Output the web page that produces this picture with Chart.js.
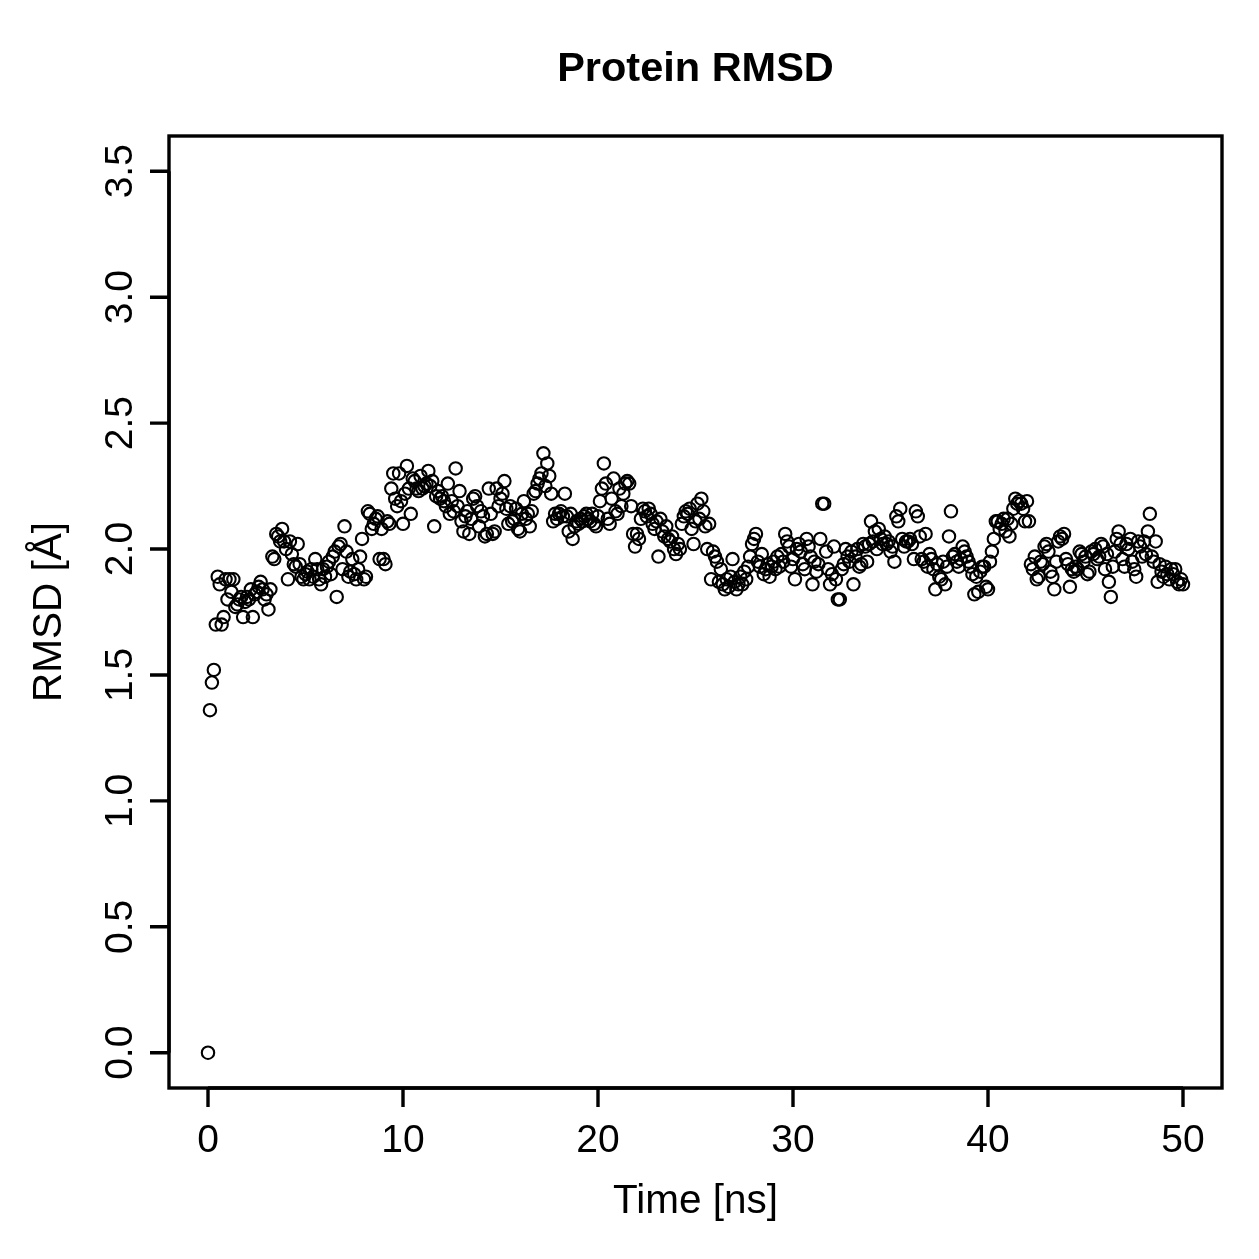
<!DOCTYPE html>
<html>
<head>
<meta charset="utf-8">
<script src="https://cdn.jsdelivr.net/npm/chart.js@4.4.1/dist/chart.umd.min.js"></script>
<style>
html,body{margin:0;padding:0;background:#fff;}
#wrap{width:1259px;height:1259px;position:relative;}
</style>
</head>
<body>
<div id="wrap"><canvas id="c"></canvas></div>
<script>
const chartTitle = "Protein RMSD";
const xTitle = "Time [ns]";
const yTitle = "RMSD [Å]";
const xTicks = [0, 10, 20, 30, 40, 50];
const yTicks = [0.0, 0.5, 1.0, 1.5, 2.0, 2.5, 3.0, 3.5];
const yTickLabels = ["0.0","0.5","1.0","1.5","2.0","2.5","3.0","3.5"];

const timeNs = [
0.0,0.1,0.2,0.3,0.4,0.5,0.6,0.7,0.8,0.9,
1.0,1.1,1.2,1.3,1.4,1.5,1.6,1.7,1.8,1.9,
2.0,2.1,2.2,2.3,2.4,2.5,2.6,2.7,2.8,2.9,
3.0,3.1,3.2,3.3,3.4,3.5,3.6,3.7,3.8,3.9,
4.0,4.1,4.2,4.3,4.4,4.5,4.6,4.7,4.8,4.9,
5.0,5.1,5.2,5.3,5.4,5.5,5.6,5.7,5.8,5.9,
6.0,6.1,6.2,6.3,6.4,6.5,6.6,6.7,6.8,6.9,
7.0,7.1,7.2,7.3,7.4,7.5,7.6,7.7,7.8,7.9,
8.0,8.1,8.2,8.3,8.4,8.5,8.6,8.7,8.8,8.9,
9.0,9.1,9.2,9.3,9.4,9.5,9.6,9.7,9.8,9.9,
10.0,10.1,10.2,10.3,10.4,10.5,10.6,10.7,10.8,10.9,
11.0,11.1,11.2,11.3,11.4,11.5,11.6,11.7,11.8,11.9,
12.0,12.1,12.2,12.3,12.4,12.5,12.6,12.7,12.8,12.9,
13.0,13.1,13.2,13.3,13.4,13.5,13.6,13.7,13.8,13.9,
14.0,14.1,14.2,14.3,14.4,14.5,14.6,14.7,14.8,14.9,
15.0,15.1,15.2,15.3,15.4,15.5,15.6,15.7,15.8,15.9,
16.0,16.1,16.2,16.3,16.4,16.5,16.6,16.7,16.8,16.9,
17.0,17.1,17.2,17.3,17.4,17.5,17.6,17.7,17.8,17.9,
18.0,18.1,18.2,18.3,18.4,18.5,18.6,18.7,18.8,18.9,
19.0,19.1,19.2,19.3,19.4,19.5,19.6,19.7,19.8,19.9,
20.0,20.1,20.2,20.3,20.4,20.5,20.6,20.7,20.8,20.9,
21.0,21.1,21.2,21.3,21.4,21.5,21.6,21.7,21.8,21.9,
22.0,22.1,22.2,22.3,22.4,22.5,22.6,22.7,22.8,22.9,
23.0,23.1,23.2,23.3,23.4,23.5,23.6,23.7,23.8,23.9,
24.0,24.1,24.2,24.3,24.4,24.5,24.6,24.7,24.8,24.9,
25.0,25.1,25.2,25.3,25.4,25.5,25.6,25.7,25.8,25.9,
26.0,26.1,26.2,26.3,26.4,26.5,26.6,26.7,26.8,26.9,
27.0,27.1,27.2,27.3,27.4,27.5,27.6,27.7,27.8,27.9,
28.0,28.1,28.2,28.3,28.4,28.5,28.6,28.7,28.8,28.9,
29.0,29.1,29.2,29.3,29.4,29.5,29.6,29.7,29.8,29.9,
30.0,30.1,30.2,30.3,30.4,30.5,30.6,30.7,30.8,30.9,
31.0,31.1,31.2,31.3,31.4,31.5,31.6,31.7,31.8,31.9,
32.0,32.1,32.2,32.3,32.4,32.5,32.6,32.7,32.8,32.9,
33.0,33.1,33.2,33.3,33.4,33.5,33.6,33.7,33.8,33.9,
34.0,34.1,34.2,34.3,34.4,34.5,34.6,34.7,34.8,34.9,
35.0,35.1,35.2,35.3,35.4,35.5,35.6,35.7,35.8,35.9,
36.0,36.1,36.2,36.3,36.4,36.5,36.6,36.7,36.8,36.9,
37.0,37.1,37.2,37.3,37.4,37.5,37.6,37.7,37.8,37.9,
38.0,38.1,38.2,38.3,38.4,38.5,38.6,38.7,38.8,38.9,
39.0,39.1,39.2,39.3,39.4,39.5,39.6,39.7,39.8,39.9,
40.0,40.1,40.2,40.3,40.4,40.5,40.6,40.7,40.8,40.9,
41.0,41.1,41.2,41.3,41.4,41.5,41.6,41.7,41.8,41.9,
42.0,42.1,42.2,42.3,42.4,42.5,42.6,42.7,42.8,42.9,
43.0,43.1,43.2,43.3,43.4,43.5,43.6,43.7,43.8,43.9,
44.0,44.1,44.2,44.3,44.4,44.5,44.6,44.7,44.8,44.9,
45.0,45.1,45.2,45.3,45.4,45.5,45.6,45.7,45.8,45.9,
46.0,46.1,46.2,46.3,46.4,46.5,46.6,46.7,46.8,46.9,
47.0,47.1,47.2,47.3,47.4,47.5,47.6,47.7,47.8,47.9,
48.0,48.1,48.2,48.3,48.4,48.5,48.6,48.7,48.8,48.9,
49.0,49.1,49.2,49.3,49.4,49.5,49.6,49.7,49.8,49.9,
50.0
];

const rmsdA = [
0.00,1.36,1.47,1.52,1.70,1.89,1.86,1.70,1.73,1.88,
1.80,1.88,1.83,1.88,1.77,1.78,1.80,1.81,1.73,1.79,
1.81,1.80,1.84,1.73,1.82,1.83,1.85,1.87,1.84,1.80,
1.82,1.76,1.84,1.97,1.96,2.06,2.05,2.03,2.08,2.03,
2.00,1.88,2.03,1.98,1.94,1.93,2.02,1.94,1.89,1.88,
1.90,1.91,1.88,1.92,1.89,1.96,1.92,1.88,1.86,1.92,
1.89,1.93,1.95,1.90,1.97,1.99,1.81,2.01,2.02,1.92,
2.09,1.99,1.89,1.91,1.96,1.90,1.88,1.92,1.97,2.04,
1.88,1.89,2.15,2.14,2.08,2.10,2.12,2.13,1.96,2.08,
1.96,1.94,2.11,2.10,2.24,2.30,2.20,2.17,2.30,2.19,
2.10,2.22,2.33,2.24,2.14,2.28,2.27,2.24,2.23,2.29,
2.24,2.25,2.26,2.31,2.25,2.27,2.09,2.21,2.23,2.20,
2.21,2.19,2.17,2.26,2.14,2.19,2.15,2.32,2.17,2.23,
2.11,2.07,2.13,2.15,2.06,2.12,2.20,2.21,2.17,2.09,
2.15,2.13,2.05,2.06,2.24,2.14,2.06,2.07,2.24,2.17,
2.20,2.22,2.27,2.16,2.10,2.17,2.11,2.12,2.16,2.08,
2.07,2.14,2.19,2.12,2.14,2.09,2.15,2.22,2.23,2.26,
2.28,2.30,2.38,2.25,2.34,2.29,2.22,2.11,2.14,2.12,
2.14,2.15,2.13,2.22,2.13,2.07,2.14,2.04,2.09,2.11,
2.10,2.12,2.11,2.13,2.14,2.12,2.11,2.14,2.10,2.09,
2.13,2.19,2.24,2.34,2.26,2.12,2.10,2.20,2.28,2.15,
2.14,2.24,2.17,2.22,2.26,2.27,2.26,2.17,2.06,2.01,
2.06,2.04,2.12,2.16,2.15,2.13,2.16,2.14,2.10,2.08,
2.11,1.97,2.12,2.07,2.05,2.09,2.04,2.03,2.05,2.00,
1.98,2.02,2.00,2.10,2.13,2.15,2.14,2.16,2.08,2.02,
2.11,2.18,2.12,2.20,2.15,2.09,2.00,2.10,1.88,1.99,
1.97,1.95,1.87,1.92,1.86,1.84,1.88,1.85,1.89,1.96,
1.87,1.84,1.86,1.89,1.86,1.91,1.88,1.93,1.97,2.02,
2.04,2.06,1.95,1.93,1.98,1.90,1.92,1.94,1.89,1.93,
1.95,1.92,1.97,1.93,1.98,1.95,2.06,2.03,2.01,1.93,
1.96,1.88,2.00,2.02,1.99,1.94,1.92,2.04,2.01,1.97,
1.86,1.95,1.91,1.94,2.04,2.18,2.18,1.99,1.92,1.86,
1.90,2.01,1.88,1.80,1.80,1.92,1.94,2.00,1.97,1.95,
1.99,1.86,1.97,2.00,1.93,1.94,2.02,2.01,1.95,2.02,
2.11,2.03,2.07,2.00,2.08,2.04,2.02,2.05,2.02,2.03,
1.99,2.01,1.95,2.13,2.11,2.16,2.04,2.01,2.03,2.03,
2.04,2.02,1.96,2.15,2.13,2.05,1.96,1.95,2.06,1.93,
1.98,1.96,1.92,1.84,1.94,1.89,1.88,1.95,1.86,1.93,
2.05,2.15,1.97,1.98,1.95,1.93,1.96,2.01,1.99,1.97,
1.95,1.93,1.90,1.82,1.89,1.83,1.91,1.93,1.93,1.85,
1.84,1.95,1.99,2.04,2.11,2.11,2.08,2.10,2.12,2.07,
2.12,2.05,2.10,2.16,2.20,2.18,2.19,2.18,2.16,2.11,
2.19,2.11,1.94,1.92,1.97,1.88,1.89,1.95,1.94,2.01,
2.02,1.99,1.91,1.89,1.84,1.95,2.03,2.05,2.04,2.06,
1.96,1.94,1.85,1.92,1.91,1.93,1.92,1.99,1.98,1.95,
1.97,1.90,1.91,1.99,1.98,2.00,1.96,1.97,2.02,2.01,
1.92,1.98,1.87,1.81,1.93,1.99,2.04,2.07,2.02,1.96,
1.93,2.02,2.00,2.04,1.95,1.92,1.89,2.03,2.01,1.97,
2.03,1.98,2.07,2.14,1.97,1.95,2.03,1.87,1.94,1.91,
1.89,1.93,1.90,1.88,1.92,1.90,1.92,1.87,1.86,1.88,
1.86
];

const points = timeNs.map((t, i) => ({x: t, y: rmsdA[i]}));
const FONT = '"Liberation Sans", Arial, Helvetica, sans-serif';

const rAxes = {
  id: 'rAxes',
  afterDraw(chart) {
    const ctx = chart.ctx;
    const a = chart.chartArea;
    const xs = chart.scales.x, ys = chart.scales.y;
    ctx.save();
    ctx.strokeStyle = '#000';
    ctx.fillStyle = '#000';
    ctx.lineWidth = 3.4;
    ctx.lineCap = 'butt';
    ctx.lineJoin = 'miter';
    // box
    ctx.strokeRect(a.left, a.top, a.right - a.left, a.bottom - a.top);
    const tl = 19;
    // x axis
    ctx.beginPath();
    const x0 = xs.getPixelForValue(xTicks[0]), x1 = xs.getPixelForValue(xTicks[xTicks.length-1]);
    ctx.moveTo(x0, a.bottom); ctx.lineTo(x1, a.bottom);
    xTicks.forEach(v => { const px = xs.getPixelForValue(v); ctx.moveTo(px, a.bottom); ctx.lineTo(px, a.bottom + tl); });
    ctx.stroke();
    ctx.font = '39px ' + FONT;
    ctx.textAlign = 'center'; ctx.textBaseline = 'middle';
    xTicks.forEach(v => ctx.fillText(String(v), xs.getPixelForValue(v), 1141));
    // y axis
    ctx.beginPath();
    const y0 = ys.getPixelForValue(yTicks[0]), y1 = ys.getPixelForValue(yTicks[yTicks.length-1]);
    ctx.moveTo(a.left, y0); ctx.lineTo(a.left, y1);
    yTicks.forEach(v => { const py = ys.getPixelForValue(v); ctx.moveTo(a.left, py); ctx.lineTo(a.left - tl, py); });
    ctx.stroke();
    yTicks.forEach((v, i) => {
      const py = ys.getPixelForValue(v);
      ctx.save(); ctx.translate(121, py); ctx.rotate(-Math.PI/2);
      ctx.fillText(yTickLabels[i], 0, 0); ctx.restore();
    });
    // axis titles
    ctx.font = '40.5px ' + FONT;
    ctx.fillText(xTitle, (a.left + a.right)/2, 1202);
    ctx.save(); ctx.translate(50, (a.top + a.bottom)/2); ctx.rotate(-Math.PI/2);
    ctx.fillText(yTitle, 0, 0); ctx.restore();
    // main title
    ctx.font = 'bold 41.5px ' + FONT;
    ctx.fillText(chartTitle, (a.left + a.right)/2, 70);
    ctx.restore();
  }
};

new Chart(document.getElementById('c'), {
  type: 'scatter',
  data: {
    datasets: [{
      data: points,
      showLine: false,
      pointStyle: 'circle',
      pointRadius: 6.2,
      pointBorderWidth: 2.1,
      pointBackgroundColor: 'rgba(0,0,0,0)',
      pointBorderColor: '#000',
      pointHoverRadius: 6.2
    }]
  },
  options: {
    responsive: true,
    maintainAspectRatio: false,
    animation: false,
    events: [],
    layout: {padding: {left: 169, right: 37, top: 136, bottom: 171}},
    plugins: {legend: {display: false}, tooltip: {enabled: false}, title: {display: false}},
    scales: {
      x: {type: 'linear', min: -2, max: 52, display: false},
      y: {type: 'linear', min: -0.14, max: 3.64, display: false}
    }
  },
  plugins: [rAxes]
});
</script>
</body>
</html>
